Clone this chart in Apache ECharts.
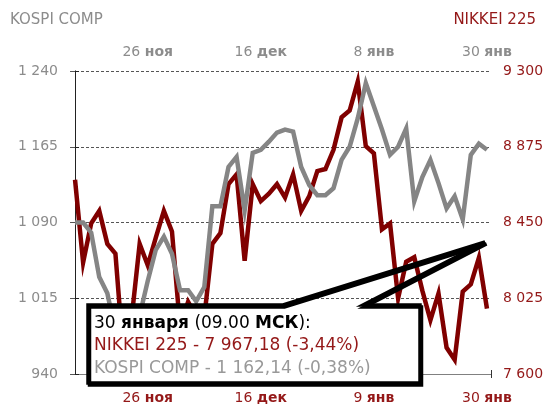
<!DOCTYPE html>
<html>
<head>
<meta charset="utf-8">
<script src="https://cdn.jsdelivr.net/npm/echarts@6/dist/echarts.min.js"></script>
<style>
  html, body { margin: 0; padding: 0; background: #fff; }
  #chart { width: 547px; height: 406px; }
</style>
</head>
<body>
<div id="chart"></div>
<script>
// KOSPI COMP, закрытия (левая шкала, верхние даты)
var kospi = [1090, 1090, 1080, 1036, 1020, 982, 960, 972, 998, 1032, 1063, 1076, 1059, 1023, 1023, 1012,
  1026, 1106, 1106, 1145, 1155, 1102, 1159, 1162, 1170, 1179, 1182, 1180, 1145, 1127, 1117, 1117, 1124,
  1152, 1165, 1193, 1228, 1205, 1182, 1157, 1165, 1183, 1111, 1135, 1152, 1129, 1104, 1116, 1093, 1157,
  1168, 1162]
// NIKKEI 225 (правая шкала, нижние даты)
var nikkei = [8690, 8225, 8445, 8515, 8330, 8275, 7700, 7910, 8330, 8210, 8365, 8515, 8400, 7865, 8005,
  7925, 7915, 8330, 8390, 8665, 8720, 8235, 8665, 8570, 8612, 8665, 8590, 8720, 8515, 8598, 8738, 8750,
  8858, 9040, 9078, 9240, 8878, 8838, 8412, 8445, 8025, 8230, 8255, 8068, 7902, 8052, 7748, 7680, 8062,
  8103, 8252, 7967]

// подписи дат и их позиции (номер торгового дня)
var dateIdx = [9, 23, 37, 51]
var kospiDates = ['26 ноя', '16 дек', '8 янв', '30 янв']
var nikkeiDates = ['26 ноя', '16 дек', '9 янв', '30 янв']

var kospiTicks = [940, 1015, 1090, 1165, 1240]
var nikkeiTicks = [7600, 8025, 8450, 8875, 9300]

var noteTitle = ['30 ', 'января', ' (09.00 ', 'МСК', '):']
var noteNikkei = 'NIKKEI 225 - 7 967,18 (-3,44%)'
var noteKospi = 'KOSPI COMP - 1 162,14 (-0,38%)'

var FONT = '"DejaVu Sans", sans-serif'
var GRAY = '#8c8c8c'
var RED = '#941818'

function fmt(v) {
  return String(v).replace(/\B(?=(\d{3})+(?!\d))/g, ' ')
}

function dateLabel(list) {
  return function (value) {
    var k = dateIdx.indexOf(Math.round(value))
    if (k < 0) return ''
    var p = list[k].split(' ')
    return '{n|' + p[0] + ' }{b|' + p[1] + '}'
  }
}

function rich(color) {
  return {
    n: { fontFamily: FONT, fontSize: 14, color: color },
    b: { fontFamily: FONT, fontSize: 14, fontWeight: 'bold', color: color }
  }
}

var chart = echarts.init(document.getElementById('chart'), null, { renderer: 'canvas' })

var tickPos = dateIdx.map(function (i) { return i + 0.5 })

var option = {
  animation: false,
  grid: { left: 71, right: 56, top: 71, bottom: 32, containLabel: false },
  xAxis: [{
    type: 'value',
    position: 'top',
    min: -0.5,
    max: 51.5,
    axisLine: { show: false },
    axisTick: { show: true, inside: true, length: 4, customValues: tickPos, lineStyle: { color: '#333' } },
    axisLabel: { customValues: dateIdx, margin: 12, formatter: dateLabel(kospiDates), rich: rich(GRAY) },
    splitLine: { show: false }
  }, {
    type: 'value',
    position: 'bottom',
    min: -0.5,
    max: 51.5,
    axisLine: { show: true, onZero: false, lineStyle: { color: '#808080', width: 1 } },
    axisTick: { show: true, inside: true, length: 4, customValues: tickPos, lineStyle: { color: '#333' } },
    axisLabel: { customValues: dateIdx, margin: 17, formatter: dateLabel(nikkeiDates), rich: rich(RED) },
    splitLine: { show: false }
  }],
  yAxis: [{
    type: 'value',
    position: 'left',
    min: 940,
    max: 1240,
    axisLine: { show: true, lineStyle: { color: '#808080', width: 1 } },
    axisTick: { show: true, length: 5, customValues: kospiTicks, lineStyle: { color: '#555' } },
    axisLabel: {
      customValues: kospiTicks, margin: 13, color: GRAY, fontFamily: FONT, fontSize: 14,
      formatter: function (v) { return fmt(v) }
    },
    splitLine: { show: false }
  }, {
    type: 'value',
    position: 'right',
    min: 7600,
    max: 9300,
    axisLine: { show: true, lineStyle: { color: '#222', width: 1 } },
    axisTick: { show: true, length: 4, customValues: nikkeiTicks, lineStyle: { color: '#222' } },
    axisLabel: {
      customValues: nikkeiTicks, margin: 12, color: RED, fontFamily: FONT, fontSize: 14,
      formatter: function (v) { return fmt(v) }
    },
    splitLine: { show: false }
  }, {
    // вспомогательная ось только для пунктирной сетки
    type: 'value',
    position: 'left',
    min: 0,
    max: 4,
    interval: 1,
    axisLine: { show: false },
    axisTick: { show: false },
    axisLabel: { show: false },
    splitLine: { show: true, lineStyle: { color: '#555', width: 1, type: [3, 2] } }
  }],
  series: [{
    name: 'NIKKEI 225',
    type: 'line',
    xAxisIndex: 1,
    yAxisIndex: 1,
    data: nikkei.map(function (v, i) { return [i, v] }),
    showSymbol: false,
    lineStyle: { color: '#800000', width: 4.5, join: 'miter' },
    z: 2
  }, {
    name: 'KOSPI COMP',
    type: 'line',
    xAxisIndex: 0,
    yAxisIndex: 0,
    data: kospi.map(function (v, i) { return [i, v] }),
    showSymbol: false,
    lineStyle: { color: '#858585', width: 4.5, join: 'miter' },
    z: 3
  }],
  graphic: [{
    type: 'text',
    left: 10,
    top: 13,
    style: { text: 'KOSPI COMP', fill: GRAY, font: '15px ' + FONT }
  }, {
    type: 'text',
    right: 11,
    top: 13,
    style: { text: 'NIKKEI 225', fill: RED, font: '15px ' + FONT }
  }, {
    // белая подложка выноски
    type: 'rect',
    z: 100,
    shape: { x: 88, y: 305, width: 332, height: 78 },
    style: { fill: '#fff' }
  }, {
    type: 'polygon',
    z: 101,
    shape: { points: [[88, 305], [283, 305], [485, 242], [363, 305], [420, 305], [420, 383], [88, 383]] },
    style: {
      fill: null, stroke: '#000', lineWidth: 3.5, lineJoin: 'miter',
      shadowColor: '#000', shadowOffsetX: 1.5, shadowOffsetY: 2, shadowBlur: 0
    }
  }, {
    type: 'text',
    z: 102,
    x: 94,
    y: 312,
    style: {
      text: '{k|' + noteTitle[0] + '}{kb|' + noteTitle[1] + '}{k|' + noteTitle[2] + '}{kb|' + noteTitle[3] + '}{k|' + noteTitle[4] + '}\n' +
        '{r|' + noteNikkei + '}\n{g|' + noteKospi + '}',
      rich: {
        k: { fill: '#000', font: '17px ' + FONT, lineHeight: 22.5 },
        kb: { fill: '#000', font: 'bold 17px ' + FONT, lineHeight: 22.5 },
        r: { fill: RED, font: '17px ' + FONT, lineHeight: 22.5 },
        g: { fill: '#999', font: '17px ' + FONT, lineHeight: 22.5 }
      }
    }
  }]
}

chart.setOption(option)
</script>
</body>
</html>
